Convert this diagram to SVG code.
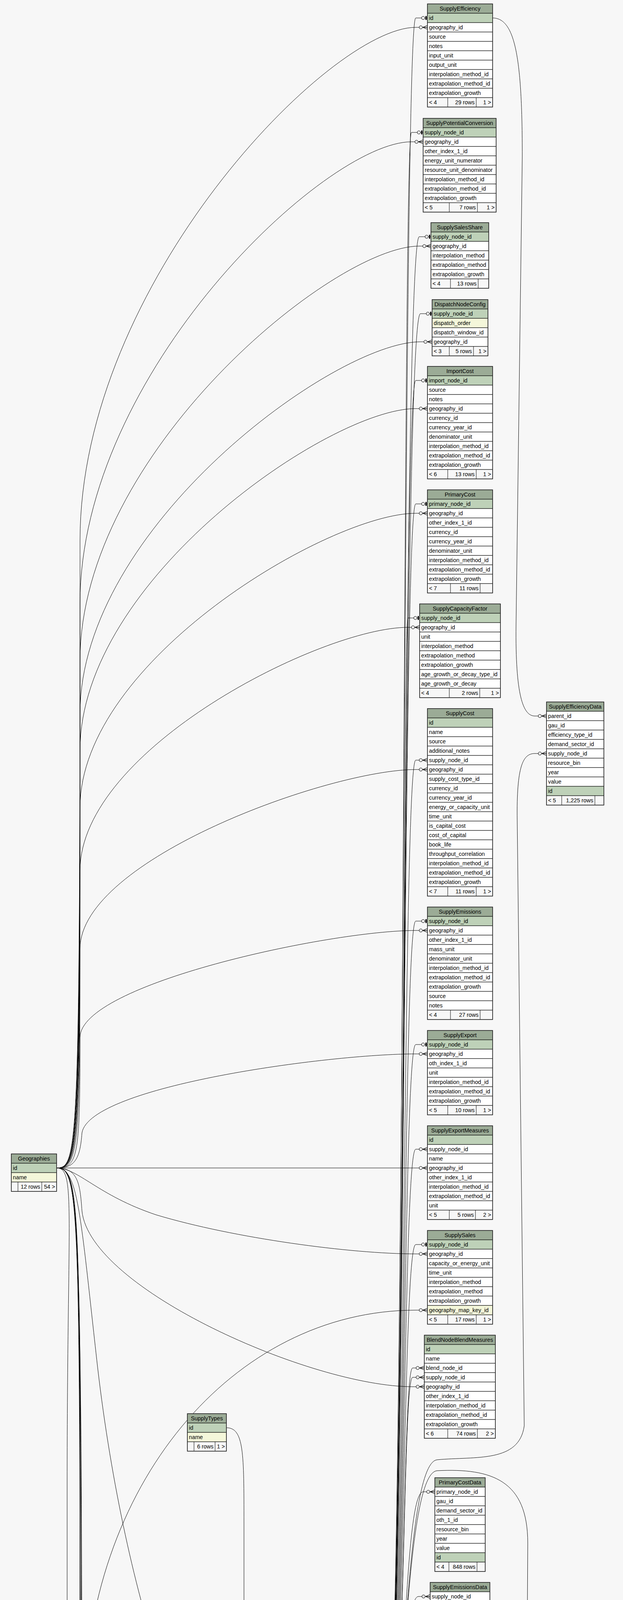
<svg xmlns="http://www.w3.org/2000/svg" width="1596" height="6962" viewBox="0 0 1596 6962">
<style>
.h{fill:#9bab96;stroke:#000;stroke-width:1}
.pk{fill:#bed1b8;stroke:#000;stroke-width:1}
.ix{fill:#f4f7da;stroke:#000;stroke-width:1}
.r{fill:#fff;stroke:#000;stroke-width:1}
.f{fill:#f7f7f7;stroke:#000;stroke-width:1}
.s{stroke:#000;stroke-width:1;fill:none}
.o{fill:none;stroke:#333;stroke-width:1.6}
.ob{fill:none;stroke:#000;stroke-width:4}
text{font-family:"Liberation Sans",Arial,Helvetica,sans-serif;font-size:14.3px;fill:#000}
.c{text-anchor:middle}
.e{text-anchor:end}
#edges path{fill:none;stroke:#000;stroke-width:1}
#edges .m{marker-end:url(#crow)}
#edges .t{marker-end:url(#tee)}
</style>
<defs>
<marker id="crow" markerUnits="userSpaceOnUse" viewBox="-24 -8 26 16" refX="0" refY="0" markerWidth="26" markerHeight="16" orient="auto">
<path d="M-12,0L0,-5M-12,0L0,5M-12,0L0,0" fill="none" stroke="#000" stroke-width="1.2"/>
<circle cx="-17" cy="0" r="4" fill="#f7f7f7" stroke="#000" stroke-width="1.1"/>
</marker>
<marker id="tee" markerUnits="userSpaceOnUse" viewBox="-24 -8 26 16" refX="0" refY="0" markerWidth="26" markerHeight="16" orient="auto">
<circle cx="-11" cy="0" r="4" fill="#f7f7f7" stroke="#000" stroke-width="1.1"/>
<rect x="-5" y="-5" width="3" height="10" fill="#000"/>
</marker>
</defs>
<rect x="0" y="0" width="1596" height="6962" fill="#f7f7f7"/>
<g id="edges">
<path class="t" d="M986,4573C1040,4573 1030,46 1065,46L1095,46"/>
<path class="t" d="M986,4573C1040,4573 1030,339 1054,339L1084,339"/>
<path class="t" d="M986,4573C1040,4573 1030,606 1074,606L1104,606"/>
<path class="t" d="M986,4573C1040,4573 1030,803 1077,803L1107,803"/>
<path class="t" d="M986,4573C1040,4573 1030,974 1065,974L1095,974"/>
<path class="t" d="M986,4573C1040,4573 1030,1290 1065,1290L1095,1290"/>
<path class="t" d="M986,4573C1040,4573 1030,1582 1045,1582L1075,1582"/>
<path class="t" d="M986,4573C1040,4573 1030,2358 1065,2358L1095,2358"/>
<path class="t" d="M986,4573C1040,4573 1030,2674 1065,2674L1095,2674"/>
<path class="t" d="M986,4573C1040,4573 1030,3186 1065,3186L1095,3186"/>
<path class="t" d="M986,4573C1040,4573 1030,6246 1048,6246L1078,6246"/>
<path class="t" d="M986,4573C1040,4573 1030,6539 1065,6539L1095,6539"/>
<path class="m" d="M986,4573C1040,4573 1030,1946 1065,1946L1095,1946"/>
<path class="m" d="M986,4573C1040,4573 1030,2942 1065,2942L1095,2942"/>
<path class="m" d="M986,4573C1040,4573 1030,3502 1057,3502L1087,3502"/>
<path class="m" d="M986,4573C1040,4573 1030,3526 1057,3526L1087,3526"/>
<path class="m" d="M986,4573C1040,4573 1030,3819 1084,3819L1114,3819"/>
<path class="m" d="M986,4573C1040,4573 1030,4087 1072,4087L1102,4087"/>
<path class="m" d="M986,4573C1020,4573 1010,4427 1029,4427L1059,4427"/>
<path class="m" d="M986,4573C1010,4573 1020,4574 1040,4574L1070,4574"/>
<path class="m" d="M986,4573C1020,4573 1015,4722 1042,4722L1072,4722"/>
<path class="m" d="M986,4573C1030,4573 1015,4870 1042,4870L1072,4870"/>
<path class="m" d="M986,4573C1030,4573 1010,5018 1023,5018L1053,5018"/>
<path class="m" d="M986,4573C1040,4573 1030,5298 1073,5298L1103,5298"/>
<path class="m" d="M986,4573C1040,4573 1030,5322 1073,5322L1103,5322"/>
<path class="m" d="M986,4573C1040,4573 1030,5495 1064,5495L1094,5495"/>
<path class="m" d="M986,4573C1040,4573 1030,6038 1053,6038L1083,6038"/>
<path class="m" d="M986,4573C1040,4573 1030,6062 1053,6062L1083,6062"/>
<path class="m" d="M986,4573C1040,4573 1030,6086 1053,6086L1083,6086"/>
<path class="m" d="M986,4573C1040,4573 1030,3745 1120,3737C1220,3728 1330,3745 1343,3650L1325,2100C1323,1960 1340,1929 1370,1929L1400,1929"/>
<path class="m" d="M986,4573C1040,4573 1030,3770 1120,3765C1260,3758 1352,3790 1352,3950L1350,4300C1348,4450 1345,4524 1358,4524L1388,4524"/>
<path class="m" d="M986,4573C1040,4573 1030,5140 1120,5143L1290,5150C1325,5150 1332,5100 1333,5000C1334,4900 1340,4858 1350,4858L1380,4858"/>
<path class="m" d="M986,4573C1040,4573 1020,5110 1100,5115C1200,5120 1300,5126 1364,5126L1394,5126"/>
<path class="m" d="M986,4573C1040,4573 1030,5160 1120,5165C1250,5170 1315,5180 1330,5240C1345,5320 1350,5371 1370,5371L1400,5371"/>
<path class="m" d="M986,4573C1040,4573 1030,5180 1120,5185C1250,5190 1305,5220 1312,5300L1318,5600C1320,5670 1325,5687 1338,5687L1368,5687"/>
<path class="m" d="M986,4573C1040,4573 1035,5880 1120,5886L1290,5888C1330,5890 1335,5960 1338,6060C1340,6100 1350,6114 1361,6114L1391,6114"/>
<path class="m" d="M986,4573C1040,4573 1035,6180 1120,6188L1300,6190C1330,6195 1332,6300 1334,6520C1335,6590 1345,6609 1361,6609L1391,6609"/>
<path class="t" d="M986,4573C1040,4573 1045,4515 960,4515L700,4515C620,4515 612,4600 618,4700C622,4770 630,4789 641,4789L671,4789"/>
<path class="m" d="M145,2990C200,2990 205,2950 205,1384C205,727 845,70 1065,70L1095,70"/>
<path class="m" d="M145,2990C200,2990 205,2950 205,1545C205,954 834,363 1054,363L1084,363"/>
<path class="m" d="M145,2990C200,2990 205,2950 205,1692C205,1161 854,630 1074,630L1104,630"/>
<path class="m" d="M145,2990C200,2990 205,2950 205,1827C205,1351 857,875 1077,875L1107,875"/>
<path class="m" d="M145,2990C200,2990 205,2950 205,1921C205,1484 845,1046 1065,1046L1095,1046"/>
<path class="m" d="M145,2990C200,2990 205,2950 205,2068C205,1691 845,1314 1065,1314L1095,1314"/>
<path class="m" d="M145,2990C200,2990 205,2950 205,2229C205,1918 825,1606 1045,1606L1075,1606"/>
<path class="m" d="M145,2990C200,2990 205,2950 205,2429C205,2200 845,1970 1065,1970L1095,1970"/>
<path class="m" d="M145,2990C200,2990 205,2960 205,2656C205,2519 845,2382 1065,2382L1095,2382"/>
<path class="m" d="M145,2990C190,2990 205,2970 210,2900C230,2780 845,2698 1065,2698L1095,2698"/>
<path class="m" d="M145,2990L1095,2990"/>
<path class="m" d="M145,2990C200,2990 250,3060 400,3110C600,3170 900,3210 1065,3210L1095,3210"/>
<path class="m" d="M145,2990C200,2990 205,3030 210,3100C230,3300 800,3550 1057,3550L1087,3550"/>
<path class="m" d="M145,2990C200,2990 205,3100 250,3500C320,4100 500,4620 641,4645L671,4645"/>
<path class="m" d="M145,2990C195,2990 172,3100 172,3800L172,5650C172,5730 180,5754 192,5754L222,5754"/>
<path class="m" d="M145,2990C200,2990 205,3050 205,4000C205,5400 500,5960 1053,5966L1083,5966"/>
<path class="m" d="M145,2990C200,2990 205,3050 205,4200C205,5700 500,6265 1048,6270L1078,6270"/>
<path class="m" d="M145,2990C200,2990 205,3050 205,4400C205,6000 500,6540 1065,6563L1095,6563"/>
<path class="m" d="M145,2990C200,2990 208,3050 208,4300C208,5500 700,5862 1000,5862L1285,5862C1322,5862 1325,5800 1328,5780C1331,5765 1335,5759 1338,5759L1368,5759"/>
<path class="m" d="M145,2990C200,2990 208,3050 208,4500C208,5800 700,6170 1000,6170L1290,6170C1320,6170 1330,6138 1361,6138L1391,6138"/>
<path class="m" d="M145,2990C200,2990 210,3050 210,4600C210,6500 500,6860 1000,6860L1290,6858C1340,6858 1345,6800 1345,6700C1345,6650 1350,6633 1361,6633L1391,6633"/>
<path class="m" d="M156,6323C215,6323 215,6200 215,5800L215,4400C215,3800 600,3354 1065,3354L1095,3354"/>
<path class="m" d="M156,6323C250,6300 450,5900 560,5550C620,5350 620,4981 641,4981L671,4981"/>
<path class="m" d="M156,6323C185,6323 180,6100 182,5950C184,5850 186,5826 192,5826L222,5826"/>
<path class="m" d="M156,6323C400,6330 800,6438 1048,6438L1078,6438"/>
<path class="m" d="M156,6323C400,6340 750,6707 1065,6707L1095,6707"/>
<path class="m" d="M156,6323C300,6400 700,6790 1000,6790L1200,6795C1300,6795 1322,6760 1325,6650L1328,6400C1329,6330 1340,6306 1361,6306L1391,6306"/>
<path class="m" d="M156,6323C400,6600 700,6900 1000,6900C1200,6900 1300,6880 1335,6820C1355,6780 1358,6753 1361,6753L1391,6753"/>
<path class="m" d="M1263,5447C1320,5447 1305,5300 1315,5100C1322,4950 1320,4834 1350,4834L1380,4834"/>
<path class="m" d="M1263,5447C1320,5447 1320,5300 1340,5230C1350,5205 1355,5198 1364,5198L1394,5198"/>
<path class="m" d="M1263,5447C1320,5447 1340,5443 1370,5443L1400,5443"/>
<path class="m" d="M1263,5447C1310,5447 1310,5711 1338,5711L1368,5711"/>
<path class="m" d="M1263,5447C1320,5447 1300,5735 1338,5735L1368,5735"/>
<path class="m" d="M1263,5447C1320,5447 1310,5900 1320,6000C1328,6070 1340,6090 1361,6090L1391,6090"/>
<path class="m" d="M1263,5447C1320,5447 1316,5600 1320,6000L1324,6490C1326,6560 1340,6585 1361,6585L1391,6585"/>
<path class="m" d="M1297,4379C1345,4379 1330,4548 1358,4548L1388,4548"/>
<path class="m" d="M1286,4526C1330,4526 1330,4572 1358,4572L1388,4572"/>
<path class="m" d="M1283,4674C1330,4674 1330,4596 1358,4596L1388,4596"/>
<path class="m" d="M1283,4822C1335,4822 1325,4620 1358,4620L1388,4620"/>
<path class="m" d="M1303,4970C1350,4970 1335,4644 1358,4644L1388,4644"/>
<path class="m" d="M1262,46C1320,46 1338,150 1338,400L1322,1600C1320,1780 1340,1833 1370,1833L1400,1833"/>
<path class="m" d="M605,5229C650,5229 662,5150 640,5050C622,4960 620,4909 641,4909L671,4909"/>
<path class="m" d="M605,5229C800,5232 950,5420 1000,5500C1030,5550 1045,5567 1064,5567L1094,5567"/>
<path class="m" d="M389,5634C427,5634 427,5580 427,5400L427,4950C427,4890 430,4872 435,4872L465,4872"/>
<path class="m" d="M389,5634C500,5610 590,5400 610,5200C620,5080 622,5005 641,5005L671,5005"/>
<path class="m" d="M389,5634C700,5650 900,5759 1064,5759L1094,5759"/>
<path class="m" d="M580,3655C625,3655 625,3720 625,3900L625,4560C625,4610 630,4621 641,4621L671,4621"/>
<path class="m" d="M593,4824C635,4824 620,4693 641,4693L671,4693"/>
</g>

<g id="SupplyEfficiency">
<rect class="h" x="1095" y="10" width="167" height="24"/><text class="c" x="1178.5" y="27">SupplyEfficiency</text>
<rect class="pk" x="1095" y="34" width="167" height="24"/><text x="1099" y="51">id</text>
<rect class="r" x="1095" y="58" width="167" height="24"/><text x="1099" y="75">geography_id</text>
<rect class="r" x="1095" y="82" width="167" height="24"/><text x="1099" y="99">source</text>
<rect class="r" x="1095" y="106" width="167" height="24"/><text x="1099" y="123">notes</text>
<rect class="r" x="1095" y="130" width="167" height="24"/><text x="1099" y="147">input_unit</text>
<rect class="r" x="1095" y="154" width="167" height="24"/><text x="1099" y="171">output_unit</text>
<rect class="r" x="1095" y="178" width="167" height="24"/><text x="1099" y="195">interpolation_method_id</text>
<rect class="r" x="1095" y="202" width="167" height="24"/><text x="1099" y="219">extrapolation_method_id</text>
<rect class="r" x="1095" y="226" width="167" height="24"/><text x="1099" y="243">extrapolation_growth</text>
<rect class="f" x="1095" y="250" width="167" height="24"/><path class="s" d="M1147,250v24M1220,250v24"/>
<text x="1099" y="267">&lt; 4</text><text class="e" x="1216" y="267">29 rows</text><text class="e" x="1258" y="267">1 &gt;</text>
<rect class="o" x="1095" y="10" width="167" height="264"/>
</g>

<g id="SupplyPotentialConversion">
<rect class="h" x="1084" y="303" width="187" height="24"/><text class="c" x="1177.5" y="320">SupplyPotentialConversion</text>
<rect class="pk" x="1084" y="327" width="187" height="24"/><text x="1088" y="344">supply_node_id</text>
<rect class="r" x="1084" y="351" width="187" height="24"/><text x="1088" y="368">geography_id</text>
<rect class="r" x="1084" y="375" width="187" height="24"/><text x="1088" y="392">other_index_1_id</text>
<rect class="r" x="1084" y="399" width="187" height="24"/><text x="1088" y="416">energy_unit_numerator</text>
<rect class="r" x="1084" y="423" width="187" height="24"/><text x="1088" y="440">resource_unit_denominator</text>
<rect class="r" x="1084" y="447" width="187" height="24"/><text x="1088" y="464">interpolation_method_id</text>
<rect class="r" x="1084" y="471" width="187" height="24"/><text x="1088" y="488">extrapolation_method_id</text>
<rect class="r" x="1084" y="495" width="187" height="24"/><text x="1088" y="512">extrapolation_growth</text>
<rect class="f" x="1084" y="519" width="187" height="24"/><path class="s" d="M1151,519v24M1223,519v24"/>
<text x="1088" y="536">&lt; 5</text><text class="e" x="1219" y="536">7 rows</text><text class="e" x="1267" y="536">1 &gt;</text>
<rect class="o" x="1084" y="303" width="187" height="240"/>
</g>

<g id="SupplySalesShare">
<rect class="h" x="1104" y="570" width="148" height="24"/><text class="c" x="1178" y="587">SupplySalesShare</text>
<rect class="pk" x="1104" y="594" width="148" height="24"/><text x="1108" y="611">supply_node_id</text>
<rect class="r" x="1104" y="618" width="148" height="24"/><text x="1108" y="635">geography_id</text>
<rect class="r" x="1104" y="642" width="148" height="24"/><text x="1108" y="659">interpolation_method</text>
<rect class="r" x="1104" y="666" width="148" height="24"/><text x="1108" y="683">extrapolation_method</text>
<rect class="r" x="1104" y="690" width="148" height="24"/><text x="1108" y="707">extrapolation_growth</text>
<rect class="f" x="1104" y="714" width="148" height="24"/><path class="s" d="M1154,714v24M1225,714v24"/>
<text x="1108" y="731">&lt; 4</text><text class="e" x="1221" y="731">13 rows</text>
<rect class="o" x="1104" y="570" width="148" height="168"/>
</g>

<g id="DispatchNodeConfig">
<rect class="h" x="1107" y="767" width="143" height="24"/><text class="c" x="1178.5" y="784">DispatchNodeConfig</text>
<rect class="pk" x="1107" y="791" width="143" height="24"/><text x="1111" y="808">supply_node_id</text>
<rect class="ix" x="1107" y="815" width="143" height="24"/><text x="1111" y="832">dispatch_order</text>
<rect class="r" x="1107" y="839" width="143" height="24"/><text x="1111" y="856">dispatch_window_id</text>
<rect class="r" x="1107" y="863" width="143" height="24"/><text x="1111" y="880">geography_id</text>
<rect class="f" x="1107" y="887" width="143" height="24"/><path class="s" d="M1151,887v24M1213,887v24"/>
<text x="1111" y="904">&lt; 3</text><text class="e" x="1209" y="904">5 rows</text><text class="e" x="1246" y="904">1 &gt;</text>
<rect class="o" x="1107" y="767" width="143" height="144"/>
</g>

<g id="ImportCost">
<rect class="h" x="1095" y="938" width="167" height="24"/><text class="c" x="1178.5" y="955">ImportCost</text>
<rect class="pk" x="1095" y="962" width="167" height="24"/><text x="1099" y="979">import_node_id</text>
<rect class="r" x="1095" y="986" width="167" height="24"/><text x="1099" y="1003">source</text>
<rect class="r" x="1095" y="1010" width="167" height="24"/><text x="1099" y="1027">notes</text>
<rect class="r" x="1095" y="1034" width="167" height="24"/><text x="1099" y="1051">geography_id</text>
<rect class="r" x="1095" y="1058" width="167" height="24"/><text x="1099" y="1075">currency_id</text>
<rect class="r" x="1095" y="1082" width="167" height="24"/><text x="1099" y="1099">currency_year_id</text>
<rect class="r" x="1095" y="1106" width="167" height="24"/><text x="1099" y="1123">denominator_unit</text>
<rect class="r" x="1095" y="1130" width="167" height="24"/><text x="1099" y="1147">interpolation_method_id</text>
<rect class="r" x="1095" y="1154" width="167" height="24"/><text x="1099" y="1171">extrapolation_method_id</text>
<rect class="r" x="1095" y="1178" width="167" height="24"/><text x="1099" y="1195">extrapolation_growth</text>
<rect class="f" x="1095" y="1202" width="167" height="24"/><path class="s" d="M1147,1202v24M1220,1202v24"/>
<text x="1099" y="1219">&lt; 6</text><text class="e" x="1216" y="1219">13 rows</text><text class="e" x="1258" y="1219">1 &gt;</text>
<rect class="o" x="1095" y="938" width="167" height="288"/>
</g>

<g id="PrimaryCost">
<rect class="h" x="1095" y="1254" width="167" height="24"/><text class="c" x="1178.5" y="1271">PrimaryCost</text>
<rect class="pk" x="1095" y="1278" width="167" height="24"/><text x="1099" y="1295">primary_node_id</text>
<rect class="r" x="1095" y="1302" width="167" height="24"/><text x="1099" y="1319">geography_id</text>
<rect class="r" x="1095" y="1326" width="167" height="24"/><text x="1099" y="1343">other_index_1_id</text>
<rect class="r" x="1095" y="1350" width="167" height="24"/><text x="1099" y="1367">currency_id</text>
<rect class="r" x="1095" y="1374" width="167" height="24"/><text x="1099" y="1391">currency_year_id</text>
<rect class="r" x="1095" y="1398" width="167" height="24"/><text x="1099" y="1415">denominator_unit</text>
<rect class="r" x="1095" y="1422" width="167" height="24"/><text x="1099" y="1439">interpolation_method_id</text>
<rect class="r" x="1095" y="1446" width="167" height="24"/><text x="1099" y="1463">extrapolation_method_id</text>
<rect class="r" x="1095" y="1470" width="167" height="24"/><text x="1099" y="1487">extrapolation_growth</text>
<rect class="f" x="1095" y="1494" width="167" height="24"/><path class="s" d="M1154,1494v24M1230,1494v24"/>
<text x="1099" y="1511">&lt; 7</text><text class="e" x="1226" y="1511">11 rows</text>
<rect class="o" x="1095" y="1254" width="167" height="264"/>
</g>

<g id="SupplyCapacityFactor">
<rect class="h" x="1075" y="1546" width="207" height="24"/><text class="c" x="1178.5" y="1563">SupplyCapacityFactor</text>
<rect class="pk" x="1075" y="1570" width="207" height="24"/><text x="1079" y="1587">supply_node_id</text>
<rect class="r" x="1075" y="1594" width="207" height="24"/><text x="1079" y="1611">geography_id</text>
<rect class="r" x="1075" y="1618" width="207" height="24"/><text x="1079" y="1635">unit</text>
<rect class="r" x="1075" y="1642" width="207" height="24"/><text x="1079" y="1659">interpolation_method</text>
<rect class="r" x="1075" y="1666" width="207" height="24"/><text x="1079" y="1683">extrapolation_method</text>
<rect class="r" x="1075" y="1690" width="207" height="24"/><text x="1079" y="1707">extrapolation_growth</text>
<rect class="r" x="1075" y="1714" width="207" height="24"/><text x="1079" y="1731">age_growth_or_decay_type_id</text>
<rect class="r" x="1075" y="1738" width="207" height="24"/><text x="1079" y="1755">age_growth_or_decay</text>
<rect class="f" x="1075" y="1762" width="207" height="24"/><path class="s" d="M1151,1762v24M1229,1762v24"/>
<text x="1079" y="1779">&lt; 4</text><text class="e" x="1225" y="1779">2 rows</text><text class="e" x="1278" y="1779">1 &gt;</text>
<rect class="o" x="1075" y="1546" width="207" height="240"/>
</g>

<g id="SupplyCost">
<rect class="h" x="1095" y="1814" width="167" height="24"/><text class="c" x="1178.5" y="1831">SupplyCost</text>
<rect class="pk" x="1095" y="1838" width="167" height="24"/><text x="1099" y="1855">id</text>
<rect class="r" x="1095" y="1862" width="167" height="24"/><text x="1099" y="1879">name</text>
<rect class="r" x="1095" y="1886" width="167" height="24"/><text x="1099" y="1903">source</text>
<rect class="r" x="1095" y="1910" width="167" height="24"/><text x="1099" y="1927">additional_notes</text>
<rect class="r" x="1095" y="1934" width="167" height="24"/><text x="1099" y="1951">supply_node_id</text>
<rect class="r" x="1095" y="1958" width="167" height="24"/><text x="1099" y="1975">geography_id</text>
<rect class="r" x="1095" y="1982" width="167" height="24"/><text x="1099" y="1999">supply_cost_type_id</text>
<rect class="r" x="1095" y="2006" width="167" height="24"/><text x="1099" y="2023">currency_id</text>
<rect class="r" x="1095" y="2030" width="167" height="24"/><text x="1099" y="2047">currency_year_id</text>
<rect class="r" x="1095" y="2054" width="167" height="24"/><text x="1099" y="2071">energy_or_capacity_unit</text>
<rect class="r" x="1095" y="2078" width="167" height="24"/><text x="1099" y="2095">time_unit</text>
<rect class="r" x="1095" y="2102" width="167" height="24"/><text x="1099" y="2119">is_capital_cost</text>
<rect class="r" x="1095" y="2126" width="167" height="24"/><text x="1099" y="2143">cost_of_capital</text>
<rect class="r" x="1095" y="2150" width="167" height="24"/><text x="1099" y="2167">book_life</text>
<rect class="r" x="1095" y="2174" width="167" height="24"/><text x="1099" y="2191">throughput_correlation</text>
<rect class="r" x="1095" y="2198" width="167" height="24"/><text x="1099" y="2215">interpolation_method_id</text>
<rect class="r" x="1095" y="2222" width="167" height="24"/><text x="1099" y="2239">extrapolation_method_id</text>
<rect class="r" x="1095" y="2246" width="167" height="24"/><text x="1099" y="2263">extrapolation_growth</text>
<rect class="f" x="1095" y="2270" width="167" height="24"/><path class="s" d="M1147,2270v24M1220,2270v24"/>
<text x="1099" y="2287">&lt; 7</text><text class="e" x="1216" y="2287">11 rows</text><text class="e" x="1258" y="2287">1 &gt;</text>
<rect class="o" x="1095" y="1814" width="167" height="480"/>
</g>

<g id="SupplyEmissions">
<rect class="h" x="1095" y="2322" width="167" height="24"/><text class="c" x="1178.5" y="2339">SupplyEmissions</text>
<rect class="pk" x="1095" y="2346" width="167" height="24"/><text x="1099" y="2363">supply_node_id</text>
<rect class="r" x="1095" y="2370" width="167" height="24"/><text x="1099" y="2387">geography_id</text>
<rect class="r" x="1095" y="2394" width="167" height="24"/><text x="1099" y="2411">other_index_1_id</text>
<rect class="r" x="1095" y="2418" width="167" height="24"/><text x="1099" y="2435">mass_unit</text>
<rect class="r" x="1095" y="2442" width="167" height="24"/><text x="1099" y="2459">denominator_unit</text>
<rect class="r" x="1095" y="2466" width="167" height="24"/><text x="1099" y="2483">interpolation_method_id</text>
<rect class="r" x="1095" y="2490" width="167" height="24"/><text x="1099" y="2507">extrapolation_method_id</text>
<rect class="r" x="1095" y="2514" width="167" height="24"/><text x="1099" y="2531">extrapolation_growth</text>
<rect class="r" x="1095" y="2538" width="167" height="24"/><text x="1099" y="2555">source</text>
<rect class="r" x="1095" y="2562" width="167" height="24"/><text x="1099" y="2579">notes</text>
<rect class="f" x="1095" y="2586" width="167" height="24"/><path class="s" d="M1154,2586v24M1230,2586v24"/>
<text x="1099" y="2603">&lt; 4</text><text class="e" x="1226" y="2603">27 rows</text>
<rect class="o" x="1095" y="2322" width="167" height="288"/>
</g>

<g id="SupplyEfficiencyData">
<rect class="h" x="1400" y="1797" width="147" height="24"/><text class="c" x="1473.5" y="1814">SupplyEfficiencyData</text>
<rect class="r" x="1400" y="1821" width="147" height="24"/><text x="1404" y="1838">parent_id</text>
<rect class="r" x="1400" y="1845" width="147" height="24"/><text x="1404" y="1862">gau_id</text>
<rect class="r" x="1400" y="1869" width="147" height="24"/><text x="1404" y="1886">efficiency_type_id</text>
<rect class="r" x="1400" y="1893" width="147" height="24"/><text x="1404" y="1910">demand_sector_id</text>
<rect class="r" x="1400" y="1917" width="147" height="24"/><text x="1404" y="1934">supply_node_id</text>
<rect class="r" x="1400" y="1941" width="147" height="24"/><text x="1404" y="1958">resource_bin</text>
<rect class="r" x="1400" y="1965" width="147" height="24"/><text x="1404" y="1982">year</text>
<rect class="r" x="1400" y="1989" width="147" height="24"/><text x="1404" y="2006">value</text>
<rect class="pk" x="1400" y="2013" width="147" height="24"/><text x="1404" y="2030">id</text>
<rect class="f" x="1400" y="2037" width="147" height="24"/><path class="s" d="M1439,2037v24M1524,2037v24"/>
<text x="1404" y="2054">&lt; 5</text><text class="e" x="1520" y="2054">1,225 rows</text>
<rect class="o" x="1400" y="1797" width="147" height="264"/>
</g>

<g id="SupplyExport">
<rect class="h" x="1095" y="2638" width="167" height="24"/><text class="c" x="1178.5" y="2655">SupplyExport</text>
<rect class="pk" x="1095" y="2662" width="167" height="24"/><text x="1099" y="2679">supply_node_id</text>
<rect class="r" x="1095" y="2686" width="167" height="24"/><text x="1099" y="2703">geography_id</text>
<rect class="r" x="1095" y="2710" width="167" height="24"/><text x="1099" y="2727">oth_index_1_id</text>
<rect class="r" x="1095" y="2734" width="167" height="24"/><text x="1099" y="2751">unit</text>
<rect class="r" x="1095" y="2758" width="167" height="24"/><text x="1099" y="2775">interpolation_method_id</text>
<rect class="r" x="1095" y="2782" width="167" height="24"/><text x="1099" y="2799">extrapolation_method_id</text>
<rect class="r" x="1095" y="2806" width="167" height="24"/><text x="1099" y="2823">extrapolation_growth</text>
<rect class="f" x="1095" y="2830" width="167" height="24"/><path class="s" d="M1147,2830v24M1220,2830v24"/>
<text x="1099" y="2847">&lt; 5</text><text class="e" x="1216" y="2847">10 rows</text><text class="e" x="1258" y="2847">1 &gt;</text>
<rect class="o" x="1095" y="2638" width="167" height="216"/>
</g>

<g id="SupplyExportMeasures">
<rect class="h" x="1095" y="2882" width="167" height="24"/><text class="c" x="1178.5" y="2899">SupplyExportMeasures</text>
<rect class="pk" x="1095" y="2906" width="167" height="24"/><text x="1099" y="2923">id</text>
<rect class="r" x="1095" y="2930" width="167" height="24"/><text x="1099" y="2947">supply_node_id</text>
<rect class="r" x="1095" y="2954" width="167" height="24"/><text x="1099" y="2971">name</text>
<rect class="r" x="1095" y="2978" width="167" height="24"/><text x="1099" y="2995">geography_id</text>
<rect class="r" x="1095" y="3002" width="167" height="24"/><text x="1099" y="3019">other_index_1_id</text>
<rect class="r" x="1095" y="3026" width="167" height="24"/><text x="1099" y="3043">interpolation_method_id</text>
<rect class="r" x="1095" y="3050" width="167" height="24"/><text x="1099" y="3067">extrapolation_method_id</text>
<rect class="r" x="1095" y="3074" width="167" height="24"/><text x="1099" y="3091">unit</text>
<rect class="f" x="1095" y="3098" width="167" height="24"/><path class="s" d="M1151,3098v24M1218,3098v24"/>
<text x="1099" y="3115">&lt; 5</text><text class="e" x="1214" y="3115">5 rows</text><text class="e" x="1258" y="3115">2 &gt;</text>
<rect class="o" x="1095" y="2882" width="167" height="240"/>
</g>

<g id="SupplySales">
<rect class="h" x="1095" y="3150" width="167" height="24"/><text class="c" x="1178.5" y="3167">SupplySales</text>
<rect class="pk" x="1095" y="3174" width="167" height="24"/><text x="1099" y="3191">supply_node_id</text>
<rect class="r" x="1095" y="3198" width="167" height="24"/><text x="1099" y="3215">geography_id</text>
<rect class="r" x="1095" y="3222" width="167" height="24"/><text x="1099" y="3239">capacity_or_energy_unit</text>
<rect class="r" x="1095" y="3246" width="167" height="24"/><text x="1099" y="3263">time_unit</text>
<rect class="r" x="1095" y="3270" width="167" height="24"/><text x="1099" y="3287">interpolation_method</text>
<rect class="r" x="1095" y="3294" width="167" height="24"/><text x="1099" y="3311">extrapolation_method</text>
<rect class="r" x="1095" y="3318" width="167" height="24"/><text x="1099" y="3335">extrapolation_growth</text>
<rect class="ix" x="1095" y="3342" width="167" height="24"/><text x="1099" y="3359">geography_map_key_id</text>
<rect class="f" x="1095" y="3366" width="167" height="24"/><path class="s" d="M1147,3366v24M1220,3366v24"/>
<text x="1099" y="3383">&lt; 5</text><text class="e" x="1216" y="3383">17 rows</text><text class="e" x="1258" y="3383">1 &gt;</text>
<rect class="o" x="1095" y="3150" width="167" height="240"/>
</g>

<g id="BlendNodeBlendMeasures">
<rect class="h" x="1087" y="3418" width="182" height="24"/><text class="c" x="1178" y="3435">BlendNodeBlendMeasures</text>
<rect class="pk" x="1087" y="3442" width="182" height="24"/><text x="1091" y="3459">id</text>
<rect class="r" x="1087" y="3466" width="182" height="24"/><text x="1091" y="3483">name</text>
<rect class="r" x="1087" y="3490" width="182" height="24"/><text x="1091" y="3507">blend_node_id</text>
<rect class="r" x="1087" y="3514" width="182" height="24"/><text x="1091" y="3531">supply_node_id</text>
<rect class="r" x="1087" y="3538" width="182" height="24"/><text x="1091" y="3555">geography_id</text>
<rect class="r" x="1087" y="3562" width="182" height="24"/><text x="1091" y="3579">other_index_1_id</text>
<rect class="r" x="1087" y="3586" width="182" height="24"/><text x="1091" y="3603">interpolation_method_id</text>
<rect class="r" x="1087" y="3610" width="182" height="24"/><text x="1091" y="3627">extrapolation_method_id</text>
<rect class="r" x="1087" y="3634" width="182" height="24"/><text x="1091" y="3651">extrapolation_growth</text>
<rect class="f" x="1087" y="3658" width="182" height="24"/><path class="s" d="M1147,3658v24M1223,3658v24"/>
<text x="1091" y="3675">&lt; 6</text><text class="e" x="1219" y="3675">74 rows</text><text class="e" x="1265" y="3675">2 &gt;</text>
<rect class="o" x="1087" y="3418" width="182" height="264"/>
</g>

<g id="PrimaryCostData">
<rect class="h" x="1114" y="3783" width="129" height="24"/><text class="c" x="1178.5" y="3800">PrimaryCostData</text>
<rect class="r" x="1114" y="3807" width="129" height="24"/><text x="1118" y="3824">primary_node_id</text>
<rect class="r" x="1114" y="3831" width="129" height="24"/><text x="1118" y="3848">gau_id</text>
<rect class="r" x="1114" y="3855" width="129" height="24"/><text x="1118" y="3872">demand_sector_id</text>
<rect class="r" x="1114" y="3879" width="129" height="24"/><text x="1118" y="3896">oth_1_id</text>
<rect class="r" x="1114" y="3903" width="129" height="24"/><text x="1118" y="3920">resource_bin</text>
<rect class="r" x="1114" y="3927" width="129" height="24"/><text x="1118" y="3944">year</text>
<rect class="r" x="1114" y="3951" width="129" height="24"/><text x="1118" y="3968">value</text>
<rect class="pk" x="1114" y="3975" width="129" height="24"/><text x="1118" y="3992">id</text>
<rect class="f" x="1114" y="3999" width="129" height="24"/><path class="s" d="M1150,3999v24M1222,3999v24"/>
<text x="1118" y="4016">&lt; 4</text><text class="e" x="1218" y="4016">848 rows</text>
<rect class="o" x="1114" y="3783" width="129" height="240"/>
</g>

<g id="SupplyEmissionsData">
<rect class="h" x="1102" y="4051" width="153" height="24"/><text class="c" x="1178.5" y="4068">SupplyEmissionsData</text>
<rect class="r" x="1102" y="4075" width="153" height="24"/><text x="1106" y="4092">supply_node_id</text>
<rect class="r" x="1102" y="4099" width="153" height="24"/><text x="1106" y="4116">gau_id</text>
<rect class="r" x="1102" y="4123" width="153" height="24"/><text x="1106" y="4140">demand_sector_id</text>
<rect class="r" x="1102" y="4147" width="153" height="24"/><text x="1106" y="4164">oth_1_id</text>
<rect class="r" x="1102" y="4171" width="153" height="24"/><text x="1106" y="4188">ghg_type_id</text>
<rect class="r" x="1102" y="4195" width="153" height="24"/><text x="1106" y="4212">ghg_id</text>
<rect class="r" x="1102" y="4219" width="153" height="24"/><text x="1106" y="4236">year</text>
<rect class="r" x="1102" y="4243" width="153" height="24"/><text x="1106" y="4260">value</text>
<rect class="pk" x="1102" y="4267" width="153" height="24"/><text x="1106" y="4284">id</text>
<rect class="f" x="1102" y="4291" width="153" height="24"/><path class="s" d="M1154,4291v24M1226,4291v24"/>
<text x="1106" y="4308">&lt; 6</text><text class="e" x="1222" y="4308">57 rows</text>
<rect class="o" x="1102" y="4051" width="153" height="264"/>
</g>

<g id="BlendNodeBlendMeasurePackages">
<rect class="h" x="1059" y="4343" width="238" height="24"/><text class="c" x="1178" y="4360">BlendNodeBlendMeasurePackages</text>
<rect class="pk" x="1059" y="4367" width="238" height="24"/><text x="1063" y="4384">id</text>
<rect class="r" x="1059" y="4391" width="238" height="24"/><text x="1063" y="4408">name</text>
<rect class="r" x="1059" y="4415" width="238" height="24"/><text x="1063" y="4432">blend_node_id</text>
<rect class="f" x="1059" y="4439" width="238" height="24"/><path class="s" d="M1147,4439v24M1238,4439v24"/>
<text x="1063" y="4456">&lt; 1</text><text class="e" x="1234" y="4456">37 rows</text><text class="e" x="1293" y="4456">2 &gt;</text>
<rect class="o" x="1059" y="4343" width="238" height="120"/>
</g>

<g id="SupplyExportMeasurePackages">
<rect class="h" x="1070" y="4490" width="216" height="24"/><text class="c" x="1178" y="4507">SupplyExportMeasurePackages</text>
<rect class="pk" x="1070" y="4514" width="216" height="24"/><text x="1074" y="4531">id</text>
<rect class="r" x="1070" y="4538" width="216" height="24"/><text x="1074" y="4555">name</text>
<rect class="r" x="1070" y="4562" width="216" height="24"/><text x="1074" y="4579">supply_node_id</text>
<rect class="f" x="1070" y="4586" width="216" height="24"/><path class="s" d="M1151,4586v24M1230,4586v24"/>
<text x="1074" y="4603">&lt; 1</text><text class="e" x="1226" y="4603">5 rows</text><text class="e" x="1282" y="4603">2 &gt;</text>
<rect class="o" x="1070" y="4490" width="216" height="120"/>
</g>

<g id="SupplyStockMeasurePackages">
<rect class="h" x="1072" y="4638" width="211" height="24"/><text class="c" x="1177.5" y="4655">SupplyStockMeasurePackages</text>
<rect class="pk" x="1072" y="4662" width="211" height="24"/><text x="1076" y="4679">id</text>
<rect class="r" x="1072" y="4686" width="211" height="24"/><text x="1076" y="4703">name</text>
<rect class="r" x="1072" y="4710" width="211" height="24"/><text x="1076" y="4727">supply_node_id</text>
<rect class="f" x="1072" y="4734" width="211" height="24"/><path class="s" d="M1147,4734v24M1231,4734v24"/>
<text x="1076" y="4751">&lt; 1</text><text class="e" x="1227" y="4751">48 rows</text><text class="e" x="1279" y="4751">2 &gt;</text>
<rect class="o" x="1072" y="4638" width="211" height="120"/>
</g>

<g id="SupplySalesMeasurePackages">
<rect class="h" x="1072" y="4786" width="211" height="24"/><text class="c" x="1177.5" y="4803">SupplySalesMeasurePackages</text>
<rect class="pk" x="1072" y="4810" width="211" height="24"/><text x="1076" y="4827">id</text>
<rect class="r" x="1072" y="4834" width="211" height="24"/><text x="1076" y="4851">name</text>
<rect class="r" x="1072" y="4858" width="211" height="24"/><text x="1076" y="4875">supply_node_id</text>
<rect class="f" x="1072" y="4882" width="211" height="24"/><path class="s" d="M1151,4882v24M1229,4882v24"/>
<text x="1076" y="4899">&lt; 1</text><text class="e" x="1225" y="4899">0 rows</text><text class="e" x="1279" y="4899">2 &gt;</text>
<rect class="o" x="1072" y="4786" width="211" height="120"/>
</g>

<g id="SupplySalesShareMeasurePackages">
<rect class="h" x="1053" y="4934" width="250" height="24"/><text class="c" x="1178" y="4951">SupplySalesShareMeasurePackages</text>
<rect class="pk" x="1053" y="4958" width="250" height="24"/><text x="1057" y="4975">id</text>
<rect class="r" x="1053" y="4982" width="250" height="24"/><text x="1057" y="4999">name</text>
<rect class="r" x="1053" y="5006" width="250" height="24"/><text x="1057" y="5023">supply_node_id</text>
<rect class="f" x="1053" y="5030" width="250" height="24"/><path class="s" d="M1147,5030v24M1241,5030v24"/>
<text x="1057" y="5047">&lt; 1</text><text class="e" x="1237" y="5047">17 rows</text><text class="e" x="1299" y="5047">2 &gt;</text>
<rect class="o" x="1053" y="4934" width="250" height="120"/>
</g>

<g id="SupplyStates">
<rect class="h" x="1388" y="4488" width="171" height="24"/><text class="c" x="1473.5" y="4505">SupplyStates</text>
<rect class="r" x="1388" y="4512" width="171" height="24"/><text x="1392" y="4529">supply_node_id</text>
<rect class="r" x="1388" y="4536" width="171" height="24"/><text x="1392" y="4553">blend_package_id</text>
<rect class="r" x="1388" y="4560" width="171" height="24"/><text x="1392" y="4577">export_package_id</text>
<rect class="r" x="1388" y="4584" width="171" height="24"/><text x="1392" y="4601">stock_package_id</text>
<rect class="r" x="1388" y="4608" width="171" height="24"/><text x="1392" y="4625">sales_package_id</text>
<rect class="r" x="1388" y="4632" width="171" height="24"/><text x="1392" y="4649">sales_share_package_id</text>
<rect class="pk" x="1388" y="4656" width="171" height="24"/><text x="1392" y="4673">id</text>
<rect class="r" x="1388" y="4680" width="171" height="24"/><text x="1392" y="4697">description</text>
<rect class="f" x="1388" y="4704" width="171" height="24"/><path class="s" d="M1443,4704v24M1517,4704v24"/>
<text x="1392" y="4721">&lt; 6</text><text class="e" x="1513" y="4721">97 rows</text><text class="e" x="1555" y="4721">1 &gt;</text>
<rect class="o" x="1388" y="4488" width="171" height="240"/>
</g>

<g id="SupplyTechsEfficiencyData">
<rect class="h" x="1380" y="4798" width="188" height="24"/><text class="c" x="1474" y="4815">SupplyTechsEfficiencyData</text>
<rect class="r" x="1380" y="4822" width="188" height="24"/><text x="1384" y="4839">supply_tech_id</text>
<rect class="r" x="1380" y="4846" width="188" height="24"/><text x="1384" y="4863">supply_node_id</text>
<rect class="r" x="1380" y="4870" width="188" height="24"/><text x="1384" y="4887">efficiency_type_id</text>
<rect class="r" x="1380" y="4894" width="188" height="24"/><text x="1384" y="4911">gau_id</text>
<rect class="r" x="1380" y="4918" width="188" height="24"/><text x="1384" y="4935">demand_sector_id</text>
<rect class="r" x="1380" y="4942" width="188" height="24"/><text x="1384" y="4959">resource_bin</text>
<rect class="r" x="1380" y="4966" width="188" height="24"/><text x="1384" y="4983">vintage</text>
<rect class="r" x="1380" y="4990" width="188" height="24"/><text x="1384" y="5007">value</text>
<rect class="pk" x="1380" y="5014" width="188" height="24"/><text x="1384" y="5031">id</text>
<rect class="f" x="1380" y="5038" width="188" height="24"/><path class="s" d="M1439,5038v24M1535,5038v24"/>
<text x="1384" y="5055">&lt; 5</text><text class="e" x="1531" y="5055">4,556 rows</text>
<rect class="o" x="1380" y="4798" width="188" height="264"/>
</g>

<g id="SupplySalesShareData">
<rect class="h" x="1394" y="5090" width="160" height="24"/><text class="c" x="1474" y="5107">SupplySalesShareData</text>
<rect class="r" x="1394" y="5114" width="160" height="24"/><text x="1398" y="5131">supply_node_id</text>
<rect class="r" x="1394" y="5138" width="160" height="24"/><text x="1398" y="5155">gau_id</text>
<rect class="r" x="1394" y="5162" width="160" height="24"/><text x="1398" y="5179">demand_sector_id</text>
<rect class="r" x="1394" y="5186" width="160" height="24"/><text x="1398" y="5203">supply_technology_id</text>
<rect class="r" x="1394" y="5210" width="160" height="24"/><text x="1398" y="5227">vintage</text>
<rect class="r" x="1394" y="5234" width="160" height="24"/><text x="1398" y="5251">value</text>
<rect class="pk" x="1394" y="5258" width="160" height="24"/><text x="1398" y="5275">id</text>
<rect class="f" x="1394" y="5282" width="160" height="24"/><path class="s" d="M1448,5282v24M1523,5282v24"/>
<text x="1398" y="5299">&lt; 4</text><text class="e" x="1519" y="5299">13 rows</text>
<rect class="o" x="1394" y="5090" width="160" height="216"/>
</g>

<g id="BlendNodeInputsData">
<rect class="h" x="1103" y="5262" width="149" height="24"/><text class="c" x="1177.5" y="5279">BlendNodeInputsData</text>
<rect class="r" x="1103" y="5286" width="149" height="24"/><text x="1107" y="5303">blend_node_id</text>
<rect class="r" x="1103" y="5310" width="149" height="24"/><text x="1107" y="5327">supply_node_id</text>
<rect class="pk" x="1103" y="5334" width="149" height="24"/><text x="1107" y="5351">id</text>
<rect class="f" x="1103" y="5358" width="149" height="24"/><path class="s" d="M1153,5358v24M1225,5358v24"/>
<text x="1107" y="5375">&lt; 2</text><text class="e" x="1221" y="5375">53 rows</text>
<rect class="o" x="1103" y="5262" width="149" height="120"/>
</g>

<g id="SupplyStockData">
<rect class="h" x="1400" y="5335" width="148" height="24"/><text class="c" x="1474" y="5352">SupplyStockData</text>
<rect class="r" x="1400" y="5359" width="148" height="24"/><text x="1404" y="5376">supply_node_id</text>
<rect class="r" x="1400" y="5383" width="148" height="24"/><text x="1404" y="5400">gau_id</text>
<rect class="r" x="1400" y="5407" width="148" height="24"/><text x="1404" y="5424">demand_sector_id</text>
<rect class="r" x="1400" y="5431" width="148" height="24"/><text x="1404" y="5448">supply_technology_id</text>
<rect class="r" x="1400" y="5455" width="148" height="24"/><text x="1404" y="5472">resource_bin</text>
<rect class="r" x="1400" y="5479" width="148" height="24"/><text x="1404" y="5496">year</text>
<rect class="r" x="1400" y="5503" width="148" height="24"/><text x="1404" y="5520">value</text>
<rect class="pk" x="1400" y="5527" width="148" height="24"/><text x="1404" y="5544">id</text>
<rect class="f" x="1400" y="5551" width="148" height="24"/><path class="s" d="M1435,5551v24M1526,5551v24"/>
<text x="1404" y="5568">&lt; 4</text><text class="e" x="1522" y="5568">26,338 rows</text>
<rect class="o" x="1400" y="5335" width="148" height="240"/>
</g>

<g id="SupplyTechs">
<rect class="h" x="1094" y="5411" width="169" height="24"/><text class="c" x="1178.5" y="5428">SupplyTechs</text>
<rect class="pk" x="1094" y="5435" width="169" height="24"/><text x="1098" y="5452">id</text>
<rect class="ix" x="1094" y="5459" width="169" height="24"/><text x="1098" y="5476">name</text>
<rect class="r" x="1094" y="5483" width="169" height="24"/><text x="1098" y="5500">supply_node_id</text>
<rect class="r" x="1094" y="5507" width="169" height="24"/><text x="1098" y="5524">source</text>
<rect class="r" x="1094" y="5531" width="169" height="24"/><text x="1098" y="5548">additional_description</text>
<rect class="r" x="1094" y="5555" width="169" height="24"/><text x="1098" y="5572">stock_decay_function_id</text>
<rect class="r" x="1094" y="5579" width="169" height="24"/><text x="1098" y="5596">book_life</text>
<rect class="r" x="1094" y="5603" width="169" height="24"/><text x="1098" y="5620">mean_lifetime</text>
<rect class="r" x="1094" y="5627" width="169" height="24"/><text x="1098" y="5644">lifetime_variance</text>
<rect class="r" x="1094" y="5651" width="169" height="24"/><text x="1098" y="5668">min_lifetime</text>
<rect class="r" x="1094" y="5675" width="169" height="24"/><text x="1098" y="5692">max_lifetime</text>
<rect class="r" x="1094" y="5699" width="169" height="24"/><text x="1098" y="5716">discharge_duration</text>
<rect class="r" x="1094" y="5723" width="169" height="24"/><text x="1098" y="5740">cost_of_capital</text>
<rect class="r" x="1094" y="5747" width="169" height="24"/><text x="1098" y="5764">shape_id</text>
<rect class="r" x="1094" y="5771" width="169" height="24"/><text x="1098" y="5788">max_lag_hours</text>
<rect class="r" x="1094" y="5795" width="169" height="24"/><text x="1098" y="5812">max_lead_hours</text>
<rect class="f" x="1094" y="5819" width="169" height="24"/><path class="s" d="M1139,5819v24M1217,5819v24"/>
<text x="1098" y="5836">&lt; 3</text><text class="e" x="1213" y="5836">113 rows</text><text class="e" x="1259" y="5836">30 &gt;</text>
<rect class="o" x="1094" y="5411" width="169" height="432"/>
</g>

<g id="SupplySalesShareMeasures">
<rect class="h" x="1368" y="5603" width="213" height="24"/><text class="c" x="1474.5" y="5620">SupplySalesShareMeasures</text>
<rect class="pk" x="1368" y="5627" width="213" height="24"/><text x="1372" y="5644">id</text>
<rect class="r" x="1368" y="5651" width="213" height="24"/><text x="1372" y="5668">name</text>
<rect class="r" x="1368" y="5675" width="213" height="24"/><text x="1372" y="5692">supply_node_id</text>
<rect class="r" x="1368" y="5699" width="213" height="24"/><text x="1372" y="5716">supply_technology_id</text>
<rect class="r" x="1368" y="5723" width="213" height="24"/><text x="1372" y="5740">replaced_supply_technology_id</text>
<rect class="r" x="1368" y="5747" width="213" height="24"/><text x="1372" y="5764">geography_id</text>
<rect class="r" x="1368" y="5771" width="213" height="24"/><text x="1372" y="5788">capacity_or_energy_unit</text>
<rect class="r" x="1368" y="5795" width="213" height="24"/><text x="1372" y="5812">time_unit</text>
<rect class="r" x="1368" y="5819" width="213" height="24"/><text x="1372" y="5836">interpolation_method_id</text>
<rect class="r" x="1368" y="5843" width="213" height="24"/><text x="1372" y="5860">extrapolation_method_id</text>
<rect class="r" x="1368" y="5867" width="213" height="24"/><text x="1372" y="5884">extrapolation_growth</text>
<rect class="r" x="1368" y="5891" width="213" height="24"/><text x="1372" y="5908">other_index_1_id</text>
<rect class="f" x="1368" y="5915" width="213" height="24"/><path class="s" d="M1443,5915v24M1527,5915v24"/>
<text x="1372" y="5932">&lt; 7</text><text class="e" x="1523" y="5932">18 rows</text><text class="e" x="1577" y="5932">2 &gt;</text>
<rect class="o" x="1368" y="5603" width="213" height="336"/>
</g>

<g id="DispatchConfig">
<rect class="h" x="1083" y="5906" width="189" height="24"/><text class="c" x="1177.5" y="5923">DispatchConfig</text>
<rect class="pk" x="1083" y="5930" width="189" height="24"/><text x="1087" y="5947">id</text>
<rect class="r" x="1083" y="5954" width="189" height="24"/><text x="1087" y="5971">geography_id</text>
<rect class="r" x="1083" y="5978" width="189" height="24"/><text x="1087" y="5995">flex_load_constraints_offset</text>
<rect class="r" x="1083" y="6002" width="189" height="24"/><text x="1087" y="6019">large_storage_duration</text>
<rect class="r" x="1083" y="6026" width="189" height="24"/><text x="1087" y="6043">thermal_dispatch_node_id</text>
<rect class="r" x="1083" y="6050" width="189" height="24"/><text x="1087" y="6067">distribution_node_id</text>
<rect class="r" x="1083" y="6074" width="189" height="24"/><text x="1087" y="6091">transmission_node_id</text>
<rect class="r" x="1083" y="6098" width="189" height="24"/><text x="1087" y="6115">distribution_grid_node_id</text>
<rect class="f" x="1083" y="6122" width="189" height="24"/><path class="s" d="M1161,6122v24M1231,6122v24"/>
<text x="1087" y="6139">&lt; 4</text><text class="e" x="1227" y="6139">1 row</text>
<rect class="o" x="1083" y="5906" width="189" height="240"/>
</g>

<g id="SupplyStockMeasures">
<rect class="h" x="1391" y="6006" width="167" height="24"/><text class="c" x="1474.5" y="6023">SupplyStockMeasures</text>
<rect class="pk" x="1391" y="6030" width="167" height="24"/><text x="1395" y="6047">id</text>
<rect class="r" x="1391" y="6054" width="167" height="24"/><text x="1395" y="6071">name</text>
<rect class="r" x="1391" y="6078" width="167" height="24"/><text x="1395" y="6095">supply_technology_id</text>
<rect class="r" x="1391" y="6102" width="167" height="24"/><text x="1395" y="6119">supply_node_id</text>
<rect class="r" x="1391" y="6126" width="167" height="24"/><text x="1395" y="6143">geography_id</text>
<rect class="r" x="1391" y="6150" width="167" height="24"/><text x="1395" y="6167">other_index_1_id</text>
<rect class="r" x="1391" y="6174" width="167" height="24"/><text x="1395" y="6191">capacity_or_energy_unit</text>
<rect class="r" x="1391" y="6198" width="167" height="24"/><text x="1395" y="6215">time_unit</text>
<rect class="r" x="1391" y="6222" width="167" height="24"/><text x="1395" y="6239">interpolation_method_id</text>
<rect class="r" x="1391" y="6246" width="167" height="24"/><text x="1395" y="6263">extrapolation_method_id</text>
<rect class="r" x="1391" y="6270" width="167" height="24"/><text x="1395" y="6287">extrapolation_growth</text>
<rect class="ix" x="1391" y="6294" width="167" height="24"/><text x="1395" y="6311">geography_map_key_id</text>
<rect class="f" x="1391" y="6318" width="167" height="24"/><path class="s" d="M1443,6318v24M1517,6318v24"/>
<text x="1395" y="6335">&lt; 7</text><text class="e" x="1513" y="6335">60 rows</text><text class="e" x="1554" y="6335">2 &gt;</text>
<rect class="o" x="1391" y="6006" width="167" height="336"/>
</g>

<g id="SupplyPotential">
<rect class="h" x="1078" y="6210" width="200" height="24"/><text class="c" x="1178" y="6227">SupplyPotential</text>
<rect class="pk" x="1078" y="6234" width="200" height="24"/><text x="1082" y="6251">supply_node_id</text>
<rect class="r" x="1078" y="6258" width="200" height="24"/><text x="1082" y="6275">geography_id</text>
<rect class="r" x="1078" y="6282" width="200" height="24"/><text x="1082" y="6299">other_index_1_id</text>
<rect class="r" x="1078" y="6306" width="200" height="24"/><text x="1082" y="6323">unit</text>
<rect class="r" x="1078" y="6330" width="200" height="24"/><text x="1082" y="6347">time_unit</text>
<rect class="r" x="1078" y="6354" width="200" height="24"/><text x="1082" y="6371">interpolation_method_id</text>
<rect class="r" x="1078" y="6378" width="200" height="24"/><text x="1082" y="6395">extrapolation_method_growth</text>
<rect class="r" x="1078" y="6402" width="200" height="24"/><text x="1082" y="6419">extrapolation_method_id</text>
<rect class="r" x="1078" y="6426" width="200" height="24"/><text x="1082" y="6443">geography_map_key_id</text>
<rect class="f" x="1078" y="6450" width="200" height="24"/><path class="s" d="M1147,6450v24M1229,6450v24"/>
<text x="1082" y="6467">&lt; 6</text><text class="e" x="1225" y="6467">14 rows</text><text class="e" x="1274" y="6467">1 &gt;</text>
<rect class="o" x="1078" y="6210" width="200" height="264"/>
</g>

<g id="SupplyStock">
<rect class="h" x="1095" y="6503" width="167" height="24"/><text class="c" x="1178.5" y="6520">SupplyStock</text>
<rect class="pk" x="1095" y="6527" width="167" height="24"/><text x="1099" y="6544">supply_node_id</text>
<rect class="r" x="1095" y="6551" width="167" height="24"/><text x="1099" y="6568">geography_id</text>
<rect class="r" x="1095" y="6575" width="167" height="24"/><text x="1099" y="6592">capacity_or_energy_unit</text>
<rect class="r" x="1095" y="6599" width="167" height="24"/><text x="1099" y="6616">time_unit</text>
<rect class="r" x="1095" y="6623" width="167" height="24"/><text x="1099" y="6640">interpolation_method_id</text>
<rect class="r" x="1095" y="6647" width="167" height="24"/><text x="1099" y="6664">extrapolation_method_id</text>
<rect class="r" x="1095" y="6671" width="167" height="24"/><text x="1099" y="6688">extrapolation_growth</text>
<rect class="r" x="1095" y="6695" width="167" height="24"/><text x="1099" y="6712">geography_map_key_id</text>
<rect class="f" x="1095" y="6719" width="167" height="24"/><path class="s" d="M1154,6719v24M1230,6719v24"/>
<text x="1099" y="6736">&lt; 5</text><text class="e" x="1226" y="6736">23 rows</text>
<rect class="o" x="1095" y="6503" width="167" height="240"/>
</g>

<g id="SupplySalesMeasures">
<rect class="h" x="1391" y="6501" width="167" height="24"/><text class="c" x="1474.5" y="6518">SupplySalesMeasures</text>
<rect class="pk" x="1391" y="6525" width="167" height="24"/><text x="1395" y="6542">id</text>
<rect class="r" x="1391" y="6549" width="167" height="24"/><text x="1395" y="6566">name</text>
<rect class="r" x="1391" y="6573" width="167" height="24"/><text x="1395" y="6590">supply_technology_id</text>
<rect class="r" x="1391" y="6597" width="167" height="24"/><text x="1395" y="6614">supply_node_id</text>
<rect class="r" x="1391" y="6621" width="167" height="24"/><text x="1395" y="6638">geography_id</text>
<rect class="r" x="1391" y="6645" width="167" height="24"/><text x="1395" y="6662">other_index_1_id</text>
<rect class="r" x="1391" y="6669" width="167" height="24"/><text x="1395" y="6686">interpolation_method_id</text>
<rect class="r" x="1391" y="6693" width="167" height="24"/><text x="1395" y="6710">extrapolation_method_id</text>
<rect class="r" x="1391" y="6717" width="167" height="24"/><text x="1395" y="6734">extrapolation_growth</text>
<rect class="r" x="1391" y="6741" width="167" height="24"/><text x="1395" y="6758">geography_map_key_id</text>
<rect class="f" x="1391" y="6765" width="167" height="24"/><path class="s" d="M1451,6765v24M1513,6765v24"/>
<text x="1395" y="6782">&lt; 7</text><text class="e" x="1509" y="6782">1 row</text><text class="e" x="1554" y="6782">1 &gt;</text>
<rect class="o" x="1391" y="6501" width="167" height="288"/>
</g>

<g id="SupplyTypes">
<rect class="h" x="480" y="3619" width="100" height="24"/><text class="c" x="530" y="3636">SupplyTypes</text>
<rect class="pk" x="480" y="3643" width="100" height="24"/><text x="484" y="3660">id</text>
<rect class="ix" x="480" y="3667" width="100" height="24"/><text x="484" y="3684">name</text>
<rect class="f" x="480" y="3691" width="100" height="24"/><path class="s" d="M497,3691v24M551,3691v24"/>
<text class="e" x="547" y="3708">6 rows</text><text class="e" x="576" y="3708">1 &gt;</text>
<rect class="o" x="480" y="3619" width="100" height="96"/>
</g>

<g id="SupplyNodes">
<rect class="h" x="672" y="4537" width="314" height="24"/><text class="c" x="829" y="4554">SupplyNodes</text>
<rect class="pk" x="672" y="4561" width="193" height="24"/><rect class="r" x="865" y="4561" width="121" height="24"/><text x="676" y="4578">id</text><text x="869" y="4578">serial[10]</text>
<rect class="r" x="672" y="4585" width="193" height="24"/><rect class="r" x="865" y="4585" width="121" height="24"/><text x="676" y="4602">name</text><text x="869" y="4602">text[2147483647]</text>
<rect class="r" x="672" y="4609" width="193" height="24"/><rect class="r" x="865" y="4609" width="121" height="24"/><text x="676" y="4626">supply_type_id</text><text x="869" y="4626">int4[10]</text>
<rect class="r" x="672" y="4633" width="193" height="24"/><rect class="r" x="865" y="4633" width="121" height="24"/><text x="676" y="4650">tradable_geography_id</text><text x="869" y="4650">int4[10]</text>
<rect class="r" x="672" y="4657" width="193" height="24"/><rect class="r" x="865" y="4657" width="121" height="24"/><text x="676" y="4674">is_active</text><text x="869" y="4674">bool[1]</text>
<rect class="r" x="672" y="4681" width="193" height="24"/><rect class="r" x="865" y="4681" width="121" height="24"/><text x="676" y="4698">final_energy_link</text><text x="869" y="4698">int4[10]</text>
<rect class="r" x="672" y="4705" width="193" height="24"/><rect class="r" x="865" y="4705" width="121" height="24"/><text x="676" y="4722">is_curtailable</text><text x="869" y="4722">int4[10]</text>
<rect class="r" x="672" y="4729" width="193" height="24"/><rect class="r" x="865" y="4729" width="121" height="24"/><text x="676" y="4746">is_exportable</text><text x="869" y="4746">int4[10]</text>
<rect class="r" x="672" y="4753" width="193" height="24"/><rect class="r" x="865" y="4753" width="121" height="24"/><text x="676" y="4770">is_flexible</text><text x="869" y="4770">int4[10]</text>
<rect class="r" x="672" y="4777" width="193" height="24"/><rect class="r" x="865" y="4777" width="121" height="24"/><text x="676" y="4794">residual_supply_node_id</text><text x="869" y="4794">int4[10]</text>
<rect class="r" x="672" y="4801" width="193" height="24"/><rect class="r" x="865" y="4801" width="121" height="24"/><text x="676" y="4818">mean_lifetime</text><text x="869" y="4818">float4[8,8]</text>
<rect class="r" x="672" y="4825" width="193" height="24"/><rect class="r" x="865" y="4825" width="121" height="24"/><text x="676" y="4842">lifetime_variance</text><text x="869" y="4842">float4[8,8]</text>
<rect class="r" x="672" y="4849" width="193" height="24"/><rect class="r" x="865" y="4849" width="121" height="24"/><text x="676" y="4866">max_lifetime</text><text x="869" y="4866">float4[8,8]</text>
<rect class="r" x="672" y="4873" width="193" height="24"/><rect class="r" x="865" y="4873" width="121" height="24"/><text x="676" y="4890">min_lifetime</text><text x="869" y="4890">float4[8,8]</text>
<rect class="r" x="672" y="4897" width="193" height="24"/><rect class="r" x="865" y="4897" width="121" height="24"/><text x="676" y="4914">stock_decay_function_id</text><text x="869" y="4914">int4[10]</text>
<rect class="r" x="672" y="4921" width="193" height="24"/><rect class="r" x="865" y="4921" width="121" height="24"/><text x="676" y="4938">cost_of_capital</text><text x="869" y="4938">float4[8,8]</text>
<rect class="r" x="672" y="4945" width="193" height="24"/><rect class="r" x="865" y="4945" width="121" height="24"/><text x="676" y="4962">book_life</text><text x="869" y="4962">int4[10]</text>
<rect class="r" x="672" y="4969" width="193" height="24"/><rect class="r" x="865" y="4969" width="121" height="24"/><text x="676" y="4986">geography_map_key_id</text><text x="869" y="4986">int4[10]</text>
<rect class="r" x="672" y="4993" width="193" height="24"/><rect class="r" x="865" y="4993" width="121" height="24"/><text x="676" y="5010">shape_id</text><text x="869" y="5010">int4[10]</text>
<rect class="r" x="672" y="5017" width="193" height="24"/><rect class="r" x="865" y="5017" width="121" height="24"/><text x="676" y="5034">max_lag_hours</text><text x="869" y="5034">int4[10]</text>
<rect class="r" x="672" y="5041" width="193" height="24"/><rect class="r" x="865" y="5041" width="121" height="24"/><text x="676" y="5058">max_lead_hours</text><text x="869" y="5058">int4[10]</text>
<rect class="r" x="672" y="5065" width="193" height="24"/><rect class="r" x="865" y="5065" width="121" height="24"/><text x="676" y="5082">enforce_potential_constraint</text><text x="869" y="5082">bool[1]</text>
<rect class="f" x="672" y="5089" width="314" height="24"/><path class="s" d="M749,5089v24M865,5089v24"/>
<text x="676" y="5106">&lt; 7</text><text class="e" x="861" y="5106">107 rows</text><text class="e" x="982" y="5106">38 &gt;</text>
<rect class="ob" x="672" y="4537" width="314" height="576"/>
</g>

<g id="FinalEnergy">
<rect class="h" x="465" y="4788" width="128" height="24"/><text class="c" x="529" y="4805">FinalEnergy</text>
<rect class="pk" x="465" y="4812" width="128" height="24"/><text x="469" y="4829">id</text>
<rect class="r" x="465" y="4836" width="128" height="24"/><text x="469" y="4853">name</text>
<rect class="r" x="465" y="4860" width="128" height="24"/><text x="469" y="4877">shape_id</text>
<rect class="f" x="465" y="4884" width="128" height="24"/><path class="s" d="M495,4884v24M555,4884v24"/>
<text x="469" y="4901">&lt; 1</text><text class="e" x="551" y="4901">27 rows</text><text class="e" x="589" y="4901">11 &gt;</text>
<rect class="o" x="465" y="4788" width="128" height="120"/>
</g>

<g id="StockDecayFunctions">
<rect class="h" x="453" y="5193" width="152" height="24"/><text class="c" x="529" y="5210">StockDecayFunctions</text>
<rect class="pk" x="453" y="5217" width="152" height="24"/><text x="457" y="5234">id</text>
<rect class="r" x="453" y="5241" width="152" height="24"/><text x="457" y="5258">name</text>
<rect class="f" x="453" y="5265" width="152" height="24"/><path class="s" d="M496,5265v24M563,5265v24"/>
<text class="e" x="559" y="5282">3 rows</text><text class="e" x="601" y="5282">7 &gt;</text>
<rect class="o" x="453" y="5193" width="152" height="96"/>
</g>

<g id="Geographies">
<rect class="h" x="29" y="2954" width="116" height="24"/><text class="c" x="87" y="2971">Geographies</text>
<rect class="pk" x="29" y="2978" width="116" height="24"/><text x="33" y="2995">id</text>
<rect class="ix" x="29" y="3002" width="116" height="24"/><text x="33" y="3019">name</text>
<rect class="f" x="29" y="3026" width="116" height="24"/><path class="s" d="M46,3026v24M107,3026v24"/>
<text class="e" x="103" y="3043">12 rows</text><text class="e" x="141" y="3043">54 &gt;</text>
<rect class="o" x="29" y="2954" width="116" height="96"/>
</g>

<g id="Shapes">
<rect class="h" x="222" y="5598" width="167" height="24"/><text class="c" x="305.5" y="5615">Shapes</text>
<rect class="pk" x="222" y="5622" width="167" height="24"/><text x="226" y="5639">id</text>
<rect class="r" x="222" y="5646" width="167" height="24"/><text x="226" y="5663">name</text>
<rect class="r" x="222" y="5670" width="167" height="24"/><text x="226" y="5687">shape_type_id</text>
<rect class="r" x="222" y="5694" width="167" height="24"/><text x="226" y="5711">shape_unit_type_id</text>
<rect class="r" x="222" y="5718" width="167" height="24"/><text x="226" y="5735">time_zone_id</text>
<rect class="r" x="222" y="5742" width="167" height="24"/><text x="226" y="5759">geography_id</text>
<rect class="r" x="222" y="5766" width="167" height="24"/><text x="226" y="5783">other_index_1_id</text>
<rect class="r" x="222" y="5790" width="167" height="24"/><text x="226" y="5807">other_index_2_id</text>
<rect class="r" x="222" y="5814" width="167" height="24"/><text x="226" y="5831">geography_map_key_id</text>
<rect class="r" x="222" y="5838" width="167" height="24"/><text x="226" y="5855">interpolation_method_id</text>
<rect class="r" x="222" y="5862" width="167" height="24"/><text x="226" y="5879">extrapolation_method_id</text>
<rect class="r" x="222" y="5886" width="167" height="24"/><text x="226" y="5903">input_type_id</text>
<rect class="f" x="222" y="5910" width="167" height="24"/><path class="s" d="M278,5910v24M349,5910v24"/>
<text x="226" y="5927">&lt; 10</text><text class="e" x="345" y="5927">35 rows</text><text class="e" x="385" y="5927">5 &gt;</text>
<rect class="o" x="222" y="5598" width="167" height="336"/>
</g>

<g id="GeographyMapKeys">
<rect class="h" x="17" y="6287" width="139" height="24"/><text class="c" x="86.5" y="6304">GeographyMapKeys</text>
<rect class="pk" x="17" y="6311" width="139" height="24"/><text x="21" y="6328">id</text>
<rect class="ix" x="17" y="6335" width="139" height="24"/><text x="21" y="6352">name</text>
<rect class="f" x="17" y="6359" width="139" height="24"/><path class="s" d="M45,6359v24M113,6359v24"/>
<text class="e" x="109" y="6376">57 rows</text><text class="e" x="152" y="6376">14 &gt;</text>
<rect class="o" x="17" y="6287" width="139" height="96"/>
</g>

<text x="17" y="6946">Generated by SchemaSpy</text>
</svg>
